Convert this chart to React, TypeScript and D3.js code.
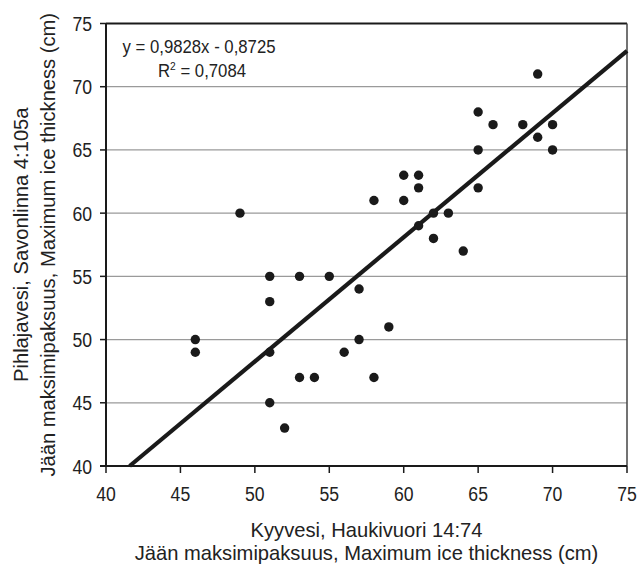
import React from "react";
import * as d3 from "d3";

const xValues = [46, 46, 49, 51, 51, 51, 51, 52, 53, 53, 54, 55, 56, 57, 57, 58, 58, 59, 60, 60, 61, 61, 61, 62, 62, 63, 64, 65, 65, 65, 66, 68, 69, 69, 70, 70];
const yValues = [50, 49, 60, 55, 53, 49, 45, 43, 55, 47, 47, 55, 49, 54, 50, 61, 47, 51, 63, 61, 63, 62, 59, 60, 58, 60, 57, 68, 65, 62, 67, 67, 71, 66, 67, 65];
const xTicks = [40, 45, 50, 55, 60, 65, 70, 75];
const yTicks = [40, 45, 50, 55, 60, 65, 70, 75];
const slope = 0.9828;
const intercept = -0.8725;
const equationText = "y = 0,9828x - 0,8725";
const r2Value = "0,7084";
const xTitle = ["Kyyvesi, Haukivuori 14:74", "Jään maksimipaksuus, Maximum ice thickness (cm)"];
const yTitle = ["Pihlajavesi, Savonlinna 4:105a", "Jään maksimipaksuus, Maximum ice thickness (cm)"];

const W = 637;
const H = 568;
const left = 106;
const right = 627;
const top = 23.5;
const bottom = 466;
const FONT = "'Liberation Sans', Arial, sans-serif";
const INK = "#222";

function T(props: { x: number; y: number; rot?: number; sx?: number; size: number; anchor?: string; dy?: string; children: React.ReactNode }) {
  const { x, y, rot = 0, sx = 1, size, anchor = "start", dy, children } = props;
  return (
    <text
      transform={`translate(${x},${y}) rotate(${rot}) scale(${sx},1)`}
      textAnchor={anchor as any}
      dy={dy}
      fontSize={size}
      fill={INK}
    >
      {children}
    </text>
  );
}

export default function App() {
  const x = d3.scaleLinear().domain([40, 75]).range([left, right]);
  const y = d3.scaleLinear().domain([40, 75]).range([bottom, top]);
  const pts = xValues.map((v, i) => [v, yValues[i]]);
  const x0 = (40 - intercept) / slope;
  const x1 = 75;
  const line = d3.line<number>().x((d) => x(d)).y((d) => y(slope * d + intercept));
  const cx = (left + right) / 2;
  const cy = (top + bottom) / 2;
  return (
    <svg width={W} height={H} style={{ position: "absolute", left: 0, top: 0, background: "#fff" }} fontFamily={FONT}>
      {yTicks.filter((t) => t > 40 && t < 75).map((t) => (
        <line key={"g" + t} x1={left} x2={right} y1={y(t)} y2={y(t)} stroke="#9a9a9a" strokeWidth={1.2} />
      ))}
      <line x1={left} x2={right} y1={top} y2={top} stroke="#1a1a1a" strokeWidth={2} />
      <line x1={right} x2={right} y1={top} y2={bottom} stroke="#444" strokeWidth={1.5} />
      <path d={line([x0, x1]) || ""} stroke="#1a1a1a" strokeWidth={4.2} fill="none" />
      {pts.map((p, i) => (
        <circle key={i} cx={x(p[0])} cy={y(p[1])} r={4.7} fill="#1a1a1a" />
      ))}
      <line x1={left} x2={left} y1={top} y2={bottom} stroke="#1a1a1a" strokeWidth={2} />
      <line x1={left - 6} x2={right} y1={bottom} y2={bottom} stroke="#1a1a1a" strokeWidth={2} />
      {yTicks.map((t) => (
        <g key={"y" + t}>
          <line x1={left - 6} x2={left} y1={y(t)} y2={y(t)} stroke="#1a1a1a" strokeWidth={1.5} />
          <T x={left - 14} y={y(t)} dy="0.36em" anchor="end" size={21} sx={0.84}>{t}</T>
        </g>
      ))}
      {xTicks.map((t) => (
        <g key={"x" + t}>
          <line x1={x(t)} x2={x(t)} y1={bottom} y2={bottom + 7} stroke="#1a1a1a" strokeWidth={1.5} />
          <T x={x(t)} y={500.5} anchor="middle" size={21} sx={0.84}>{t}</T>
        </g>
      ))}
      <T x={122.5} y={53} size={18} sx={0.93}>{equationText}</T>
      <T x={158} y={76.5} size={18} sx={0.93}>
        R<tspan fontSize={11} dy={-7}>2</tspan><tspan dy={7}>{"  = " + r2Value}</tspan>
      </T>
      <T x={cx} y={537} anchor="middle" size={21} sx={0.96}>{xTitle[0]}</T>
      <T x={cx} y={560} anchor="middle" size={21} sx={0.96}>{xTitle[1]}</T>
      <T x={28} y={cy} rot={-90} anchor="middle" size={21} sx={0.96}>{yTitle[0]}</T>
      <T x={55} y={cy} rot={-90} anchor="middle" size={21} sx={0.96}>{yTitle[1]}</T>
    </svg>
  );
}
